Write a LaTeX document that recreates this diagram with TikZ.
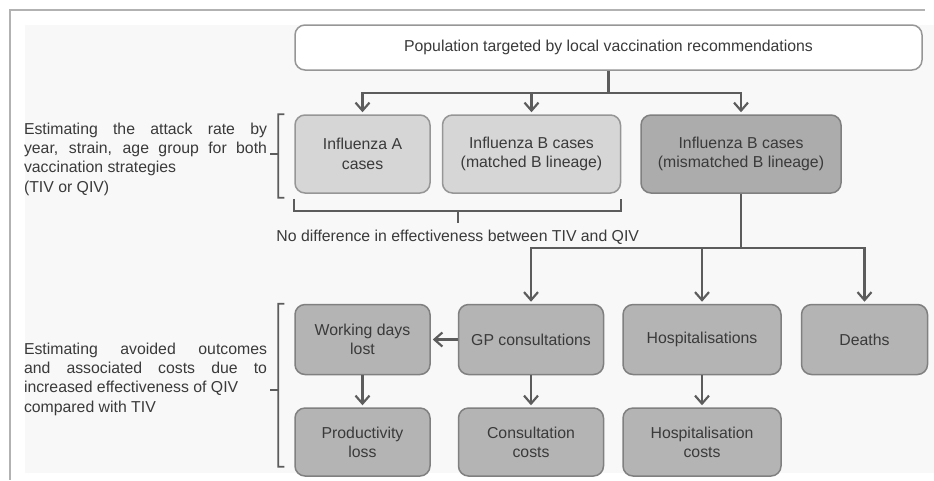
\documentclass[tikz,border=0pt]{standalone}
\usepackage{fontspec}
\setmainfont{Liberation Sans}
\usepackage{xcolor}
\usetikzlibrary{positioning}
\usetikzlibrary{calc}
\usetikzlibrary{arrows.meta}
\definecolor{textgray}{RGB}{58, 58, 58}
\definecolor{linegray}{RGB}{92, 92, 92}
\definecolor{framegray}{RGB}{178, 178, 178}
\definecolor{bggray}{RGB}{248, 248, 248}
\definecolor{strain1}{RGB}{214, 214, 214}
\definecolor{strain2}{RGB}{172, 172, 172}
\definecolor{outcome}{RGB}{180, 180, 180}
\definecolor{border1}{RGB}{150, 150, 150}
\definecolor{border2}{RGB}{128, 128, 128}
\tikzstyle{topbox} = [
	draw=border1,
	fill=white,
	line width=0.45mm,
	rounded corners=3mm,
	minimum width=188.1mm,
	minimum height=13.5mm
]
\tikzstyle{lightbox} = [
	draw=border1,
	fill=strain1,
	line width=0.45mm,
	rounded corners=3mm,
	align=center,
	minimum height=23.4mm
]
\tikzstyle{darkbox} = [
	draw=border2,
	fill=strain2,
	line width=0.45mm,
	rounded corners=3mm,
	align=center,
	minimum height=23.4mm
]
\tikzstyle{outbox} = [
	draw=border2,
	fill=outcome,
	line width=0.45mm,
	rounded corners=3mm,
	align=center,
	minimum height=21mm
]
\tikzstyle{costbox} = [
	draw=border2,
	fill=outcome,
	line width=0.45mm,
	rounded corners=3mm,
	align=center,
	minimum height=20.4mm
]
\tikzstyle{conn} = [
	draw=linegray,
	line width=0.65mm
]
\tikzstyle{arr} = [
	draw=linegray,
	line width=0.65mm,
	-{Straight Barb[length=2.4mm,width=4.2mm]},
	shorten >=0.6mm
]
\tikzstyle{brk} = [
	draw=linegray,
	line width=0.5mm
]
\tikzstyle{sidetext} = [
	text width=72.9mm,
	align=justify,
	inner sep=0pt
]

\begin{document}
\begin{tikzpicture}[x=0.3mm, y=-0.3mm, node distance=0cm and 0cm, font=\fontsize{13.5}{16.5}\selectfont, text=textgray]
	\useasboundingbox (0,0) rectangle (934,480);
	
	% frame
	\fill[bggray] (25,25) rectangle (934,473);
	\draw[framegray, line width=0.6mm] (10,480) -- (10,10) -- (925,10);
	
	% population
	\node[topbox] (pop) at (608.5,47.5) {Population targeted by local vaccination recommendations};
	
	% strain cases
	\node[lightbox, minimum width=40.5mm] (infA) at (362.5,154) {Influenza A\\cases};
	\node[lightbox, minimum width=53.4mm, right=3.3mm of infA] (infBm) {Influenza B cases\\(matched B lineage)};
	\node[darkbox, minimum width=60mm, right=5.7mm of infBm] (infBmm) {Influenza B cases\\(mismatched B lineage)};
	
	% outcomes
	\node[outbox, minimum width=40.5mm, below=33mm of infA] (wdays) {Working days\\lost};
	\node[outbox, minimum width=43.5mm, right=8.1mm of wdays] (gp) {GP consultations};
	\node[outbox, minimum width=47.4mm, right=5.4mm of gp] (hosp) {Hospitalisations};
	\node[outbox, minimum width=37.8mm, right=5.7mm of hosp] (deaths) {Deaths};
	
	% costs
	\node[costbox, minimum width=40.5mm, below=9.6mm of wdays] (prod) {Productivity\\loss};
	\node[costbox, minimum width=43.5mm, below=9.6mm of gp] (ccost) {Consultation\\costs};
	\node[costbox, minimum width=47.4mm, below=9.6mm of hosp] (hcost) {Hospitalisation\\costs};
	
	% connectors
	\draw[conn] (pop.south) -- ++(0,22) coordinate (split1);
	\draw[arr] (split1) -| (infA.north);
	\draw[arr] (split1) -| (infBm.north);
	\draw[arr] (split1) -| (infBmm.north);
	\draw[conn] (infBmm.south) -- ++(0,54) coordinate (split2);
	\draw[arr] (split2) -| (gp.north);
	\draw[arr] (split2) -| (hosp.north);
	\draw[arr] (split2) -| (deaths.north);
	\draw[arr] (gp.west) -- (wdays.east);
	\draw[arr] (wdays.south) -- (prod.north);
	\draw[arr] (gp.south) -- (ccost.north);
	\draw[arr] (hosp.south) -- (hcost.north);
	
	% attack rate bracket
	\draw[brk] ([xshift=-3mm]infA.north west) -- ++(-1.8mm,0) -- ([xshift=-4.8mm,yshift=-1.2mm]infA.south west) -- ++(1.8mm,0);
	\draw[brk] ([xshift=-4.8mm]infA.west) -- ++(-2.4mm,0) coordinate (tick1);
	\node[sidetext, left=0.9mm of tick1, yshift=-1.5mm] (attack) {Estimating the attack rate by\linebreak year, strain, age group for both\linebreak vaccination strategies\\(TIV or QIV)};
	
	% no difference brace
	\draw[brk] ([yshift=-1.5mm]infA.south west) -- ++(0,-3.6mm) -| ([yshift=-1.5mm]infBm.south east);
	\draw[brk] ($(infA.south west)!0.5!(infBm.south east)$) ++(0,-5.1mm) -- ++(0,-3.6mm) coordinate (brtip);
	\node[below=2mm of brtip, inner sep=0pt] (nodiff) {No difference in effectiveness between TIV and QIV};
	
	% avoided outcomes bracket
	\draw[brk] ([xshift=-3mm]wdays.north west) -- ++(-1.8mm,0) -- ([xshift=-4.8mm,yshift=3mm]prod.south west) -- ++(1.8mm,0);
	\draw[brk] ($([xshift=-4.8mm]wdays.north west)!0.53!([xshift=-4.8mm,yshift=3mm]prod.south west)$) -- ++(-2.4mm,0) coordinate (tick2);
	\node[sidetext, left=0.9mm of tick2, yshift=3.3mm] (avoided) {Estimating avoided outcomes\linebreak and associated costs due to\linebreak increased effectiveness of QIV\\compared with TIV};
	
\end{tikzpicture}
\end{document}
